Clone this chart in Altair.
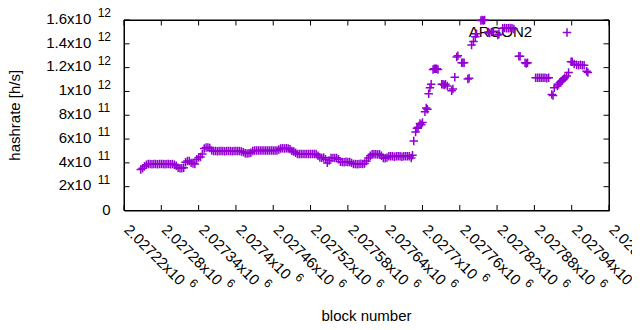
import altair as alt
import pandas as pd

# ---------------- data ----------------
block = [
    2027247, 2027250, 2027253, 2027256, 2027259, 2027262, 2027265, 2027268, 2027271, 2027274,
    2027277, 2027280, 2027283, 2027286, 2027289, 2027292, 2027295, 2027298, 2027301, 2027304,
    2027307, 2027310, 2027313, 2027316, 2027319, 2027322, 2027325, 2027328, 2027331, 2027334,
    2027337, 2027340, 2027343, 2027346, 2027349, 2027352, 2027355, 2027358, 2027361, 2027364,
    2027367, 2027370, 2027373, 2027376, 2027379, 2027382, 2027385, 2027388, 2027391, 2027394,
    2027397, 2027400, 2027403, 2027406, 2027409, 2027412, 2027415, 2027418, 2027421, 2027424,
    2027427, 2027430, 2027433, 2027436, 2027439, 2027442, 2027445, 2027448, 2027451, 2027454,
    2027457, 2027460, 2027463, 2027466, 2027469, 2027472, 2027475, 2027478, 2027481, 2027484,
    2027487, 2027490, 2027493, 2027496, 2027499, 2027502, 2027505, 2027508, 2027511, 2027514,
    2027517, 2027520, 2027523, 2027526, 2027529, 2027532, 2027535, 2027538, 2027541, 2027544,
    2027547, 2027550, 2027553, 2027556, 2027559, 2027562, 2027565, 2027568, 2027571, 2027574,
    2027577, 2027580, 2027583, 2027586, 2027589, 2027592, 2027595, 2027598, 2027601, 2027604,
    2027607, 2027610, 2027613, 2027616, 2027619, 2027622, 2027625, 2027628, 2027631, 2027634,
    2027637, 2027640, 2027643, 2027646, 2027649, 2027652, 2027655, 2027658, 2027661, 2027664,
    2027667, 2027670, 2027673, 2027676, 2027679, 2027682, 2027684, 2027686, 2027689, 2027691,
    2027693, 2027696, 2027698, 2027700, 2027704, 2027706, 2027708, 2027710, 2027712, 2027714,
    2027717, 2027719, 2027721, 2027723, 2027725, 2027731, 2027733, 2027735, 2027737, 2027740,
    2027747, 2027749, 2027752, 2027755, 2027757, 2027763, 2027765, 2027767, 2027773, 2027775,
    2027779, 2027782, 2027785, 2027787, 2027794, 2027796, 2027798, 2027800, 2027806, 2027808,
    2027811, 2027814, 2027821, 2027823, 2027829, 2027832, 2027835, 2027838, 2027841, 2027844,
    2027847, 2027855, 2027857, 2027865, 2027867, 2027869, 2027882, 2027885, 2027888, 2027891,
    2027894, 2027897, 2027900, 2027903, 2027908, 2027910, 2027912, 2027917, 2027919, 2027921,
    2027923, 2027925, 2027927, 2027929, 2027932, 2027935, 2027939, 2027941, 2027944, 2027948,
    2027951, 2027954, 2027957, 2027960, 2027964, 2027966,
]
hashrate = [
    3.45e11, 3.55e11, 3.72e11, 3.85e11, 3.90e11, 3.90e11, 3.88e11, 3.90e11, 3.90e11, 3.88e11,
    3.90e11, 3.90e11, 3.90e11, 3.88e11, 3.90e11, 3.90e11, 3.88e11, 3.90e11, 3.85e11, 3.75e11,
    3.60e11, 3.55e11, 3.55e11, 3.60e11, 4.05e11, 4.15e11, 4.15e11, 4.00e11, 3.95e11, 3.90e11,
    4.30e11, 4.45e11, 4.50e11, 4.75e11, 5.20e11, 5.30e11, 5.30e11, 5.25e11, 5.05e11, 5.00e11,
    5.00e11, 4.98e11, 5.00e11, 5.00e11, 5.00e11, 4.98e11, 5.00e11, 5.00e11, 5.00e11, 4.98e11,
    5.00e11, 5.00e11, 5.00e11, 5.00e11, 4.95e11, 4.90e11, 4.80e11, 4.78e11, 4.80e11, 4.85e11,
    5.00e11, 5.03e11, 5.03e11, 5.03e11, 5.03e11, 5.03e11, 5.03e11, 5.03e11, 5.03e11, 5.03e11,
    5.03e11, 5.03e11, 5.03e11, 5.03e11, 5.12e11, 5.20e11, 5.22e11, 5.20e11, 5.22e11, 5.20e11,
    5.15e11, 5.00e11, 4.95e11, 4.85e11, 4.75e11, 4.74e11, 4.74e11, 4.74e11, 4.74e11, 4.74e11,
    4.74e11, 4.74e11, 4.74e11, 4.74e11, 4.74e11, 4.60e11, 4.45e11, 4.42e11, 4.45e11, 4.30e11,
    4.00e11, 4.20e11, 4.42e11, 4.42e11, 4.40e11, 4.42e11, 4.30e11, 4.10e11, 4.08e11, 4.05e11,
    4.10e11, 4.08e11, 4.08e11, 4.00e11, 3.90e11, 3.90e11, 3.88e11, 3.90e11, 3.92e11, 3.90e11,
    3.95e11, 4.15e11, 4.40e11, 4.60e11, 4.72e11, 4.72e11, 4.72e11, 4.70e11, 4.72e11, 4.60e11,
    4.40e11, 4.38e11, 4.45e11, 4.55e11, 4.55e11, 4.55e11, 4.52e11, 4.55e11, 4.55e11, 4.55e11,
    4.52e11, 4.55e11, 4.55e11, 4.55e11, 4.55e11, 4.40e11, 4.65e11, 5.84e11, 6.60e11, 6.90e11,
    7.00e11, 7.30e11, 7.20e11, 7.40e11, 8.30e11, 8.60e11, 8.50e11, 9.80e11, 1.03e12, 1.06e12,
    1.185e12, 1.19e12, 1.19e12, 1.19e12, 1.185e12, 1.06e12, 1.06e12, 1.055e12, 1.06e12, 1.045e12,
    1.005e12, 1.02e12, 1.12e12, 1.29e12, 1.30e12, 1.24e12, 1.24e12, 1.24e12, 1.105e12, 1.11e12,
    1.39e12, 1.42e12, 1.46e12, 1.485e12, 1.595e12, 1.60e12, 1.595e12, 1.60e12, 1.50e12, 1.49e12,
    1.50e12, 1.505e12, 1.475e12, 1.48e12, 1.53e12, 1.532e12, 1.53e12, 1.53e12, 1.532e12, 1.53e12,
    1.525e12, 1.295e12, 1.295e12, 1.24e12, 1.235e12, 1.24e12, 1.115e12, 1.115e12, 1.115e12, 1.115e12,
    1.115e12, 1.115e12, 1.11e12, 1.115e12, 0.975e12, 0.965e12, 1.03e12, 1.045e12, 1.06e12, 1.075e12,
    1.085e12, 1.095e12, 1.105e12, 1.115e12, 1.13e12, 1.16e12, 1.25e12, 1.25e12, 1.23e12, 1.225e12,
    1.22e12, 1.225e12, 1.22e12, 1.22e12, 1.17e12, 1.16e12,
]

x_tick_values = [2027220, 2027280, 2027340, 2027400, 2027460, 2027520, 2027580,
                 2027640, 2027700, 2027760, 2027820, 2027880, 2027940, 2028000]
x_tick_mantissa = ["2.02722", "2.02728", "2.02734", "2.0274", "2.02746", "2.02752", "2.02758",
                   "2.02764", "2.0277", "2.02776", "2.02782", "2.02788", "2.02794", "2.028"]
x_tick_exponent = "6"

y_tick_values = [0, 2e11, 4e11, 6e11, 8e11, 1e12, 1.2e12, 1.4e12, 1.6e12]
y_tick_mantissa = ["0", "2", "4", "6", "8", "1", "1.2", "1.4", "1.6"]
y_tick_exponent = ["", "11", "11", "11", "11", "12", "12", "12", "12"]

series_name = "ARGON2"
x_title = "block number"
y_title = "hashrate [h/s]"

# ---------------- style ----------------
W, H = 485, 190.5
FONT = "Liberation Sans"
FS = 15
SUP = 12
COLOR = "#9400D3"
PLUS = "M-1,0L1,0M0,-1L0,1"
TICK = 5.5

ADV = {c: 0.556 for c in "0123456789"}
ADV.update({".": 0.278, "x": 0.5})


def text_width(s, size):
    return sum(ADV[c] for c in s) * size


xscale = alt.Scale(domain=[2027220, 2028000], nice=False, zero=False)
yscale = alt.Scale(domain=[0, 1.6e12], nice=False, zero=False)

df = pd.DataFrame({"block": block, "hashrate": hashrate})
xt = pd.DataFrame({"t": x_tick_values, "m": x_tick_mantissa})
xt["main"] = xt["m"] + "x10"
xt["expo"] = x_tick_exponent
yt = pd.DataFrame({"v": y_tick_values, "m": y_tick_mantissa, "e": y_tick_exponent})
yt["main"] = [m if m == "0" else m + "x10" for m in yt["m"]]
yt_zero = yt[yt["m"] == "0"].reset_index(drop=True)
yt_rest = yt[yt["m"] != "0"].reset_index(drop=True)
lab_df = pd.DataFrame({"name": [series_name], "xt": [x_title], "yt": [y_title]})

xenc = lambda f: alt.X(f, scale=xscale, axis=None)
yenc = lambda f: alt.Y(f, scale=yscale, axis=None)

points = alt.Chart(df).mark_point(
    shape=PLUS, filled=False, color=COLOR, strokeWidth=1.5, size=72, opacity=1
).encode(x=xenc("block:Q"), y=yenc("hashrate:Q"))

# plot frame
frame = alt.Chart(lab_df).mark_rect(
    fill=None, stroke="#000000", strokeWidth=1
).encode(x=alt.value(0), x2=alt.value(W), y=alt.value(0), y2=alt.value(H))

# inward ticks on all four sides (gnuplot mirror tics)
rule = dict(color="#000000", strokeWidth=1)
tick_bottom = alt.Chart(xt).mark_rule(**rule).encode(
    x=xenc("t:Q"), y=alt.value(H), y2=alt.value(H - TICK))
tick_top = alt.Chart(xt).mark_rule(**rule).encode(
    x=xenc("t:Q"), y=alt.value(0), y2=alt.value(TICK))
tick_left = alt.Chart(yt).mark_rule(**rule).encode(
    y=yenc("v:Q"), x=alt.value(0), x2=alt.value(TICK))
tick_right = alt.Chart(yt).mark_rule(**rule).encode(
    y=yenc("v:Q"), x=alt.value(W), x2=alt.value(W - TICK))

txt = dict(font=FONT, color="black")

# x tick labels: rotated mantissa + raised exponent
XLAB_Y = H + 13.8
XLAB_DX = 4.1
x_main = alt.Chart(xt).mark_text(
    angle=45, align="left", baseline="middle", dx=XLAB_DX, fontSize=FS, **txt
).encode(x=xenc("t:Q"), y=alt.value(XLAB_Y), text="main:N")

x_exp_layers = []
for n, g in xt.groupby(xt["main"].str.len()):
    dx = XLAB_DX + text_width(g["main"].iloc[0], FS) + 5.1
    x_exp_layers.append(
        alt.Chart(g.reset_index(drop=True)).mark_text(
            angle=45, align="left", baseline="alphabetic", dx=dx, dy=-3.45,
            fontSize=SUP, **txt
        ).encode(x=xenc("t:Q"), y=alt.value(XLAB_Y), text="expo:N")
    )

# y tick labels
y_main = alt.Chart(yt_rest).mark_text(
    align="right", baseline="alphabetic", dy=3.8, fontSize=FS, **txt
).encode(y=yenc("v:Q"), x=alt.value(-32.7), text="main:N")
y_zero = alt.Chart(yt_zero).mark_text(
    align="right", baseline="alphabetic", dy=4.0, fontSize=FS, **txt
).encode(y=yenc("v:Q"), x=alt.value(-13.4), text="main:N")
y_exp = alt.Chart(yt_rest).mark_text(
    align="left", baseline="alphabetic", dy=-2.9, fontSize=SUP, **txt
).encode(y=yenc("v:Q"), x=alt.value(-26.3), text="e:N")

# axis titles
x_title_mark = alt.Chart(lab_df).mark_text(
    align="center", baseline="alphabetic", fontSize=FS, **txt
).encode(x=alt.value(W / 2), y=alt.value(H + 110.3), text="xt:N")
y_title_mark = alt.Chart(lab_df).mark_text(
    align="center", baseline="alphabetic", angle=270, fontSize=FS, **txt
).encode(x=alt.value(-103.9), y=alt.value(H / 2), text="yt:N")

# key (gnuplot style: text then sample)
key_text = alt.Chart(lab_df).mark_text(
    align="right", baseline="alphabetic", fontSize=FS, **txt
).encode(x=alt.value(408.2), y=alt.value(17.1), text="name:N")
key_point = alt.Chart(lab_df).mark_point(
    shape=PLUS, filled=False, color=COLOR, strokeWidth=1.5, size=72, opacity=1
).encode(x=alt.value(443), y=alt.value(12.5))

chart = alt.layer(
    frame, tick_bottom, tick_top, tick_left, tick_right, key_text, points, key_point,
    x_main, *x_exp_layers, y_main, y_zero, y_exp, x_title_mark, y_title_mark
).properties(
    width=W, height=H,
    padding={"left": 116, "top": 12, "right": 23, "bottom": 111.5},
    autosize=alt.AutoSizeParams(type="none"),
).configure_view(stroke="#000000", strokeWidth=1)

chart.save("out.html", embed_options={"renderer": "svg", "actions": False})
